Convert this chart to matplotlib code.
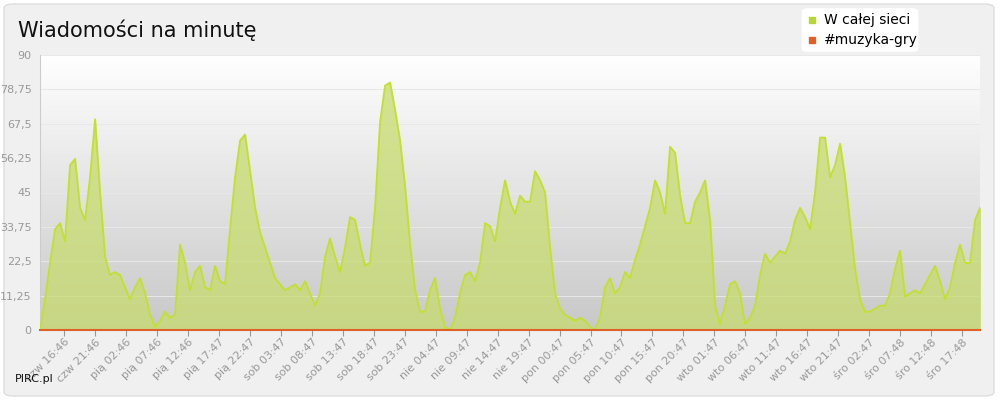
import numpy as np
import matplotlib.pyplot as plt
from matplotlib.patches import FancyBboxPatch
from matplotlib.transforms import ScaledTranslation

tick_labels = ["czw 16:46","czw 21:46","pią 02:46","pią 07:46","pią 12:46","pią 17:47","pią 22:47",
               "sob 03:47","sob 08:47","sob 13:47","sob 18:47","sob 23:47","nie 04:47","nie 09:47",
               "nie 14:47","nie 19:47","pon 00:47","pon 05:47","pon 10:47","pon 15:47","pon 20:47",
               "wto 01:47","wto 06:47","wto 11:47","wto 16:47","wto 21:47","śro 02:47","śro 07:48",
               "śro 12:48","śro 17:48"]
tick_hours = [5 * i for i in range(len(tick_labels))]

whole_net = [0,10,22,33,35,29,54,56,40,36,50,69,45,24,18,19,18,14,10,14,17,12,5,1,3,6,4,5,28,22,
             13,19,21,14,13,21,16,15,33,50,62,64,52,40,32,27,22,17,15,13,14,15,13,16,12,8,12,24,30,24,
             19,27,37,36,28,21,22,40,68,80,81,72,62,47,28,13,6,6,13,17,7,1,0,4,12,18,19,16,22,35,
             34,29,40,49,42,38,44,42,42,52,49,45,27,12,7,5,4,3,4,3,1,0,4,14,17,12,14,19,17,23,
             28,34,40,49,45,38,60,58,44,35,35,42,45,49,36,8,2,8,15,16,12,2,4,8,18,25,22,24,26,25,
             29,36,40,37,33,45,63,63,50,54,61,50,35,20,10,6,6,7,8,8,12,20,26,11,12,13,12,15,18,21,
             16,10,14,22,28,22,22,36,40]
muzyka = [0] * len(whole_net)
t_start, t_end = -3.9, 147.9
hours = np.linspace(t_start, t_end, len(whole_net))

fig = plt.figure(figsize=(10, 4), dpi=100)
fig.patch.set_facecolor('white')
fig.patches.append(FancyBboxPatch((0.004, 0.01), 0.99, 0.98, boxstyle="round,pad=0,rounding_size=0.01",
                                  transform=fig.transFigure, facecolor='#f0f0f0', edgecolor='#dddddd', zorder=-10))
ax = fig.add_axes([0.04, 0.175, 0.94, 0.6875])
ax.set_xlim(t_start, t_end)
ax.set_ylim(0, 90)
grad = np.linspace(1, 0, 256).reshape(-1, 1)
ax.imshow(grad, extent=[t_start, t_end, 0, 90], aspect='auto', cmap=plt.matplotlib.colors.LinearSegmentedColormap.from_list('g', ['#c8c8c8', '#ffffff']), zorder=0)
ax.set_facecolor('none')
yt = [0, 11.25, 22.5, 33.75, 45, 56.25, 67.5, 78.75, 90]
ax.set_yticks(yt)
ax.set_yticklabels([("%g" % v).replace('.', ',') for v in yt], fontsize=8, color='#999999')
for v in yt[1:]:
    ax.axhline(v, color='#e8e8e8', lw=0.7, zorder=1)
ax.fill_between(hours, whole_net, color='#c8dc6e', alpha=0.75, zorder=2)
ax.plot(hours, whole_net, color='#c2e02c', lw=1.2, zorder=3)
ax.plot(hours, muzyka, color='#e0602a', lw=1.5, zorder=4, clip_on=False)
ax.set_xticks(tick_hours)
ax.set_xticklabels(tick_labels, rotation=45, ha='right', fontsize=8, color='#999999', rotation_mode='anchor')
off = ScaledTranslation(5/100, 0, fig.dpi_scale_trans)
for lab in ax.get_xticklabels():
    lab.set_transform(lab.get_transform() + off)
ax.tick_params(axis='x', length=4, color='#999999', pad=1)
ax.tick_params(axis='y', length=0, pad=6)
for s in ['top', 'right']:
    ax.spines[s].set_visible(False)
ax.spines['left'].set_color('#cccccc')
ax.spines['bottom'].set_visible(False)

fig.text(0.018, 0.925, "Wiadomości na minutę", fontsize=15, color='#111111', va='center')
fig.text(0.015, 0.045, "PIRC.pl", fontsize=8, color='#111111')
leg = fig.add_axes([0.8, 0.87, 0.12, 0.11])
leg.axis('off')
leg.add_patch(FancyBboxPatch((0.02, 0.02), 0.96, 0.96, boxstyle="round,pad=0,rounding_size=0.05",
                             transform=leg.transAxes, facecolor='white', edgecolor='white'))
leg.plot([0.1], [0.73], 's', color='#b6d633', ms=4, transform=leg.transAxes)
leg.plot([0.1], [0.27], 's', color='#e0602a', ms=4, transform=leg.transAxes)
leg.text(0.2, 0.73, "W całej sieci", fontsize=10, va='center', transform=leg.transAxes)
leg.text(0.2, 0.27, "#muzyka-gry", fontsize=10, va='center', transform=leg.transAxes)
fig.savefig('out.png', dpi=100)
